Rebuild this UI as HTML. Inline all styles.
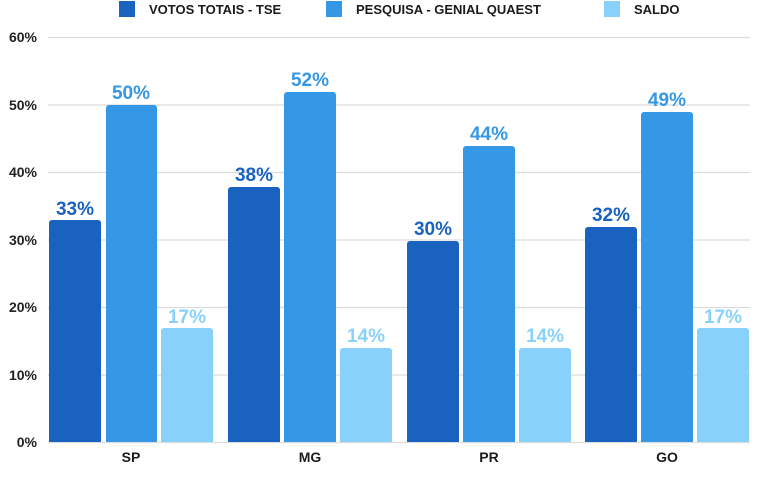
<!DOCTYPE html>
<html><head><style>
body{margin:0;background:#fff;width:758px;height:481px;overflow:hidden;font-family:"Liberation Sans",sans-serif;}
</style></head><body>
<svg width="758" height="481" xmlns="http://www.w3.org/2000/svg" font-family="Liberation Sans, sans-serif" font-weight="bold">
<g fill="#1b1b1b" font-size="13">
<rect x="119" y="1" width="16" height="16" fill="#1a62c0"/><text x="149" y="14">VOTOS TOTAIS - TSE</text>
<rect x="326" y="1" width="16" height="16" fill="#3598e6"/><text x="356" y="14">PESQUISA - GENIAL QUAEST</text>
<rect x="604" y="1" width="16" height="16" fill="#88d1fa"/><text x="634" y="14">SALDO</text>
</g>
<g stroke="#dcdcdc" stroke-width="1.3">
<line x1="48" x2="750" y1="37.5" y2="37.5"/><line x1="48" x2="750" y1="105" y2="105"/>
<line x1="48" x2="750" y1="172.5" y2="172.5"/><line x1="48" x2="750" y1="240" y2="240"/>
<line x1="48" x2="750" y1="307.5" y2="307.5"/><line x1="48" x2="750" y1="375" y2="375"/>
<line x1="48" x2="750" y1="442.5" y2="442.5"/>
</g>
<g font-size="14" fill="#222" text-anchor="end">
<text x="37" y="42">60%</text><text x="37" y="110">50%</text><text x="37" y="177">40%</text>
<text x="37" y="245">30%</text><text x="37" y="312">20%</text><text x="37" y="380">10%</text><text x="37" y="447">0%</text>
</g>
<g font-size="19" text-anchor="middle">
<!-- SP -->
<path d="M49 442V223a3 3 0 0 1 3-3H98a3 3 0 0 1 3 3V442Z" fill="#1a62c0"/>
<path d="M106 442V108a3 3 0 0 1 3-3H154a3 3 0 0 1 3 3V442Z" fill="#3598e6"/>
<path d="M161 442V331a3 3 0 0 1 3-3H210a3 3 0 0 1 3 3V442Z" fill="#88d1fa"/>
<text x="75" y="215" fill="#1a62c0">33%</text><text x="131" y="99" fill="#3598e6">50%</text><text x="187" y="323" fill="#88d1fa">17%</text>
<!-- MG -->
<path d="M228 442V190a3 3 0 0 1 3-3H277a3 3 0 0 1 3 3V442Z" fill="#1a62c0"/>
<path d="M284 442V95a3 3 0 0 1 3-3H333a3 3 0 0 1 3 3V442Z" fill="#3598e6"/>
<path d="M340 442V351a3 3 0 0 1 3-3H389a3 3 0 0 1 3 3V442Z" fill="#88d1fa"/>
<text x="254" y="181" fill="#1a62c0">38%</text><text x="310" y="86" fill="#3598e6">52%</text><text x="366" y="342" fill="#88d1fa">14%</text>
<!-- PR -->
<path d="M407 442V244a3 3 0 0 1 3-3H456a3 3 0 0 1 3 3V442Z" fill="#1a62c0"/>
<path d="M463 442V149a3 3 0 0 1 3-3H512a3 3 0 0 1 3 3V442Z" fill="#3598e6"/>
<path d="M519 442V351a3 3 0 0 1 3-3H568a3 3 0 0 1 3 3V442Z" fill="#88d1fa"/>
<text x="433" y="235" fill="#1a62c0">30%</text><text x="489" y="140" fill="#3598e6">44%</text><text x="545" y="342" fill="#88d1fa">14%</text>
<!-- GO -->
<path d="M585 442V230a3 3 0 0 1 3-3H634a3 3 0 0 1 3 3V442Z" fill="#1a62c0"/>
<path d="M641 442V115a3 3 0 0 1 3-3H690a3 3 0 0 1 3 3V442Z" fill="#3598e6"/>
<path d="M697 442V331a3 3 0 0 1 3-3H746a3 3 0 0 1 3 3V442Z" fill="#88d1fa"/>
<text x="611" y="221" fill="#1a62c0">32%</text><text x="667" y="106" fill="#3598e6">49%</text><text x="723" y="323" fill="#88d1fa">17%</text>
</g>
<g font-size="14" fill="#1b1b1b" text-anchor="middle">
<text x="131" y="462">SP</text><text x="310" y="462">MG</text><text x="489" y="462">PR</text><text x="667" y="462">GO</text>
</g>
</svg>
</body></html>
